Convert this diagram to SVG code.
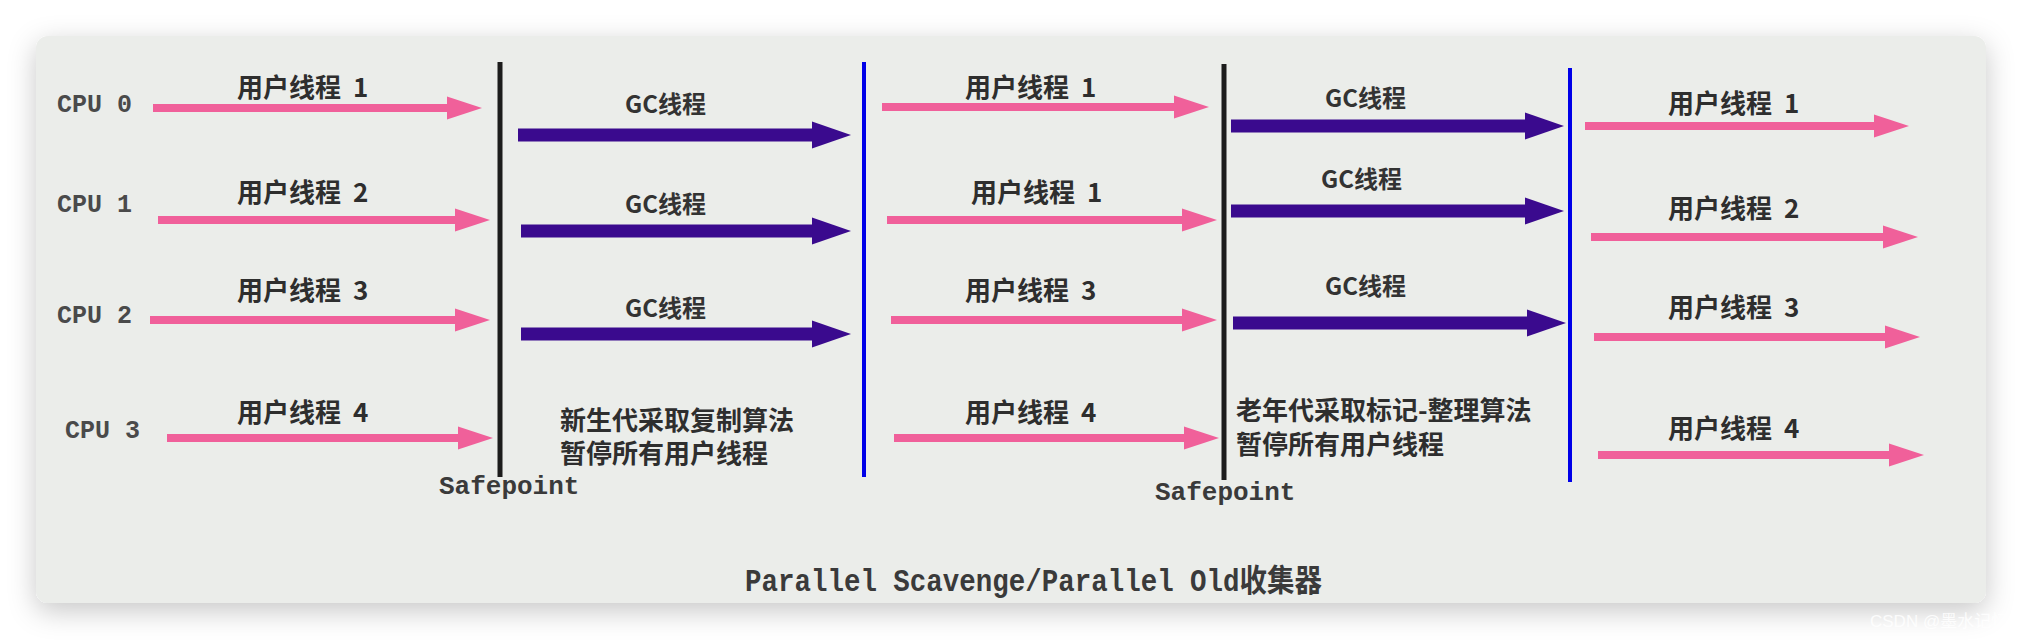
<svg xmlns="http://www.w3.org/2000/svg" width="2022" height="640" viewBox="0 0 2022 640">
<style>
.cjk{font-family:"Noto Sans CJK SC","Noto Sans",sans-serif;font-size:26px;font-weight:bold;fill:#2e2e2e;word-spacing:6px}
.gc{font-family:"Noto Sans CJK SC","Noto Sans",sans-serif;font-size:24px;font-weight:bold;fill:#333}
.note{font-family:"Noto Sans CJK SC","Noto Sans",sans-serif;font-size:26px;font-weight:bold;fill:#2e2e2e}
.mono{font-family:"Liberation Mono","DejaVu Sans Mono",monospace;font-size:25px;font-weight:bold;fill:#4a4a4a}
.sp{font-family:"Liberation Mono","DejaVu Sans Mono",monospace;font-size:26px;font-weight:bold;fill:#3a3a3a}
.title{font-family:"Liberation Mono","Noto Sans CJK SC",monospace;font-size:31px;font-weight:bold;fill:#3a3a3a}
.user{stroke:#f0609a;stroke-width:8;fill:none;marker-end:url(#pinkHead)}
.gcl{stroke:#3a0a8e;stroke-width:13;fill:none;marker-end:url(#purpleHead)}
.safe{stroke:#1c1c1c;stroke-width:5}
.blue{stroke:#0000e8;stroke-width:4}
</style>
<defs>
<filter id="shadow" x="-5%" y="-20%" width="110%" height="140%">
<feDropShadow dx="0" dy="8" stdDeviation="14" flood-color="#000" flood-opacity="0.22"/>
</filter>
<marker id="pinkHead" markerUnits="userSpaceOnUse" viewBox="0 -12 35 24" refX="0" refY="0" markerWidth="35" markerHeight="24" orient="auto" overflow="visible">
<path d="M0,-11.5 L35,0 L0,11.5 Z" fill="#f0609a"/>
</marker>
<marker id="purpleHead" markerUnits="userSpaceOnUse" viewBox="0 -14 39 28" refX="0" refY="0" markerWidth="39" markerHeight="28" orient="auto" overflow="visible">
<path d="M0,-13.5 L39,0 L0,13.5 Z" fill="#3a0a8e"/>
</marker>
</defs>
<rect x="0" y="0" width="2022" height="640" fill="#ffffff"/>
<rect id="card" x="36" y="36" width="1950" height="567" rx="12" fill="#ebedea" filter="url(#shadow)"/>
<text x="1870" y="627" font-family="'Liberation Sans','Noto Sans CJK SC',sans-serif" font-size="17" fill="#ffffff" fill-opacity="0.85">CSDN @墨水记忆</text>

<g id="cpus">
<text class="mono" x="57" y="112">CPU 0</text>
<text class="mono" x="57" y="212">CPU 1</text>
<text class="mono" x="57" y="323">CPU 2</text>
<text class="mono" x="65" y="438">CPU 3</text>
</g>

<g id="barriers">
<line class="safe" x1="500" y1="62" x2="500" y2="477"/>
<text class="sp" x="439" y="494">Safepoint</text>
<line class="blue" x1="864" y1="62" x2="864" y2="477"/>
<line class="safe" x1="1224" y1="64" x2="1224" y2="480"/>
<text class="sp" x="1155" y="500">Safepoint</text>
<line class="blue" x1="1570" y1="68" x2="1570" y2="482"/>
</g>

<g id="phase1-user">
<text class="cjk" x="237" y="97">用户线程 1</text>
<text class="cjk" x="237" y="202">用户线程 2</text>
<text class="cjk" x="237" y="300">用户线程 3</text>
<text class="cjk" x="237" y="422">用户线程 4</text>
</g>

<g id="phase2-gc">
<text class="gc" x="625" y="113">GC线程</text>
<text class="gc" x="625" y="213">GC线程</text>
<text class="gc" x="625" y="317">GC线程</text>
<text class="note" x="560" y="430">新生代采取复制算法</text>
<text class="note" x="560" y="463">暂停所有用户线程</text>
</g>

<g id="phase3-user">
<text class="cjk" x="965" y="97">用户线程 1</text>
<text class="cjk" x="971" y="202">用户线程 1</text>
<text class="cjk" x="965" y="300">用户线程 3</text>
<text class="cjk" x="965" y="422">用户线程 4</text>
</g>

<g id="phase4-gc">
<text class="gc" x="1325" y="107">GC线程</text>
<text class="gc" x="1321" y="188">GC线程</text>
<text class="gc" x="1325" y="295">GC线程</text>
<text class="note" x="1236" y="420">老年代采取标记-整理算法</text>
<text class="note" x="1236" y="454">暂停所有用户线程</text>
</g>

<g id="phase5-user">
<text class="cjk" x="1668" y="113">用户线程 1</text>
<text class="cjk" x="1668" y="218">用户线程 2</text>
<text class="cjk" x="1668" y="317">用户线程 3</text>
<text class="cjk" x="1668" y="438">用户线程 4</text>
</g>

<g id="connectors">
<line class="user" x1="153" y1="108" x2="447" y2="108"/>
<line class="user" x1="158" y1="220" x2="455" y2="220"/>
<line class="user" x1="150" y1="320" x2="455" y2="320"/>
<line class="user" x1="167" y1="438" x2="458" y2="438"/>

<line class="gcl" x1="518" y1="135" x2="812" y2="135"/>
<line class="gcl" x1="521" y1="231" x2="812" y2="231"/>
<line class="gcl" x1="521" y1="334" x2="812" y2="334"/>

<line class="user" x1="882" y1="107" x2="1174" y2="107"/>
<line class="user" x1="887" y1="220" x2="1182" y2="220"/>
<line class="user" x1="891" y1="320" x2="1182" y2="320"/>
<line class="user" x1="894" y1="438" x2="1184" y2="438"/>

<line class="gcl" x1="1231" y1="126" x2="1525" y2="126"/>
<line class="gcl" x1="1231" y1="211" x2="1525" y2="211"/>
<line class="gcl" x1="1233" y1="323" x2="1527" y2="323"/>

<line class="user" x1="1585" y1="126" x2="1874" y2="126"/>
<line class="user" x1="1591" y1="237" x2="1883" y2="237"/>
<line class="user" x1="1594" y1="337" x2="1885" y2="337"/>
<line class="user" x1="1598" y1="455" x2="1889" y2="455"/>
</g>

<text class="title" x="745" y="591" textLength="577" lengthAdjust="spacingAndGlyphs">Parallel Scavenge/Parallel Old收集器</text>
</svg>
